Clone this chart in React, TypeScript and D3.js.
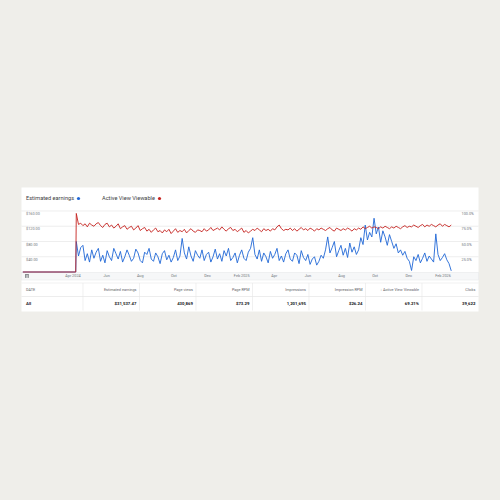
import React from "react";
import * as d3 from "d3";

// ---------- data ----------
const zeroStart = "2024-01-01";
const seriesStart = "2024-04-07";
const stepDays = 4;
const domainEnd = "2026-02-17";

// Estimated earnings ($), one value every 4 days from 2024-04-07
const earnings = [
  80, 42, 64, 70, 30, 48, 26, 58,
  36, 52, 62, 28, 44, 24, 56, 40,
  30, 62, 48, 34, 54, 26, 40, 58,
  44, 28, 36, 60, 50, 30, 24, 52,
  46, 62, 34, 28, 50, 40, 22, 48,
  56, 32, 44, 26, 38, 58, 30, 42,
  88, 50, 34, 66, 42, 28, 56, 44,
  36, 58, 30, 46, 52, 26, 40, 60,
  34, 48, 28, 56, 42, 62, 30, 38,
  50, 24, 44, 58, 36, 30, 52, 62,
  90, 46, 34, 58, 28, 50, 40, 24,
  54, 36, 46, 62, 30, 42, 26, 48,
  58, 34, 28, 50, 44, 22, 56, 38,
  30, 46, 20, 34, 40, 18, 28, 44,
  36, 58, 92, 50, 64, 80, 40, 56,
  70, 44, 62, 38, 76, 52, 66, 46,
  58, 90, 72, 123, 84, 104, 92, 141,
  100, 118, 78, 108, 92, 70, 98, 80,
  62, 74, 50, 58, 44, 54, 36, 28,
  4, 40, 30, 46, 24, 36, 50, 28,
  42, 34, 26, 100, 46, 30, 38, 48,
  32, 22, 3,
];

// Active View Viewable (%), same dates
const viewable = [
  96, 78, 80, 76, 79, 74, 80, 77,
  75, 79, 81, 76, 73, 78, 80, 74,
  77, 72, 75, 79, 71, 74, 76, 70,
  73, 75, 69, 72, 76, 68, 71, 73,
  67, 70, 65, 69, 72, 66, 68, 64,
  69, 66, 70, 63, 67, 71, 65, 68,
  66, 70, 64, 68, 71, 67, 65, 69,
  68, 66, 71, 67, 69, 73, 68, 70,
  72, 69, 74, 70, 67, 71, 73, 68,
  70, 66, 69, 72, 65, 68, 64, 67,
  70, 68, 72, 69, 66, 71, 68, 70,
  67, 71, 69, 74, 77, 71, 68, 70,
  69, 72, 68, 71, 67, 70, 73, 69,
  71, 68, 72, 70, 67, 71, 69, 72,
  70, 68, 71, 73, 69, 67, 72, 70,
  68, 71, 69, 72, 70, 67, 71, 69,
  72, 70, 74, 71, 73, 75, 72, 74,
  73, 71, 74, 72, 75, 73, 71, 74,
  72, 75, 73, 71, 74, 76, 73, 75,
  74, 77, 75, 73, 76, 78, 74, 77,
  75, 78, 76, 74, 77, 79, 75, 78,
  76, 74, 77,
];

const xTickDates = [
  "2024-04-01", "2024-06-01", "2024-08-01", "2024-10-01", "2024-12-01", "2025-02-01",
  "2025-04-01", "2025-06-01", "2025-08-01", "2025-10-01", "2025-12-01", "2026-02-01",
];
const xTickLabels = ["Apr 2024", "Jun", "Aug", "Oct", "Dec", "Feb 2025", "Apr", "Jun", "Aug", "Oct", "Dec", "Feb 2026"];
const leftTicks = [40, 80, 120, 160];
const leftTickLabels = ["$40.00", "$80.00", "$120.00", "$160.00"];
const rightTicks = [25, 50, 75, 100];
const rightTickLabels = ["25.0%", "50.0%", "75.0%", "100.0%"];
const legendLabels = ["Estimated earnings", "Active View Viewable"];
const tableHeaders = ["DATE", "Estimated earnings", "Page views", "Page RPM", "Impressions", "Impression RPM", "↓ Active View Viewable", "Clicks"];
const tableRow = ["All", "$31,537.47", "430,869", "$73.29", "1,201,695", "$26.24", "69.21%", "39,622"];

// ---------- styles ----------
const BLUE = "#1f66d6";
const RED = "#c5221f";
const FONT = "Roboto, 'Liberation Sans', Arial, sans-serif";

export default function App() {
  const parse = d3.utcParse("%Y-%m-%d");
  const start = parse(seriesStart)!;
  const dates = earnings.map((_, i) => d3.utcDay.offset(start, i * stepDays));
  const lead = [parse(zeroStart)!, d3.utcDay.offset(start, -1)];

  const panel = { x0: 21.5, x1: 478.5, y0: 187.5, y1: 311.5 };
  const plot = { x0: 22.8, x1: 451.8, top: 211, bottom: 272 };

  const x = d3.scaleUtc().domain([parse(zeroStart)!, parse(domainEnd)!]).range([plot.x0, plot.x1]);
  const yL = d3.scaleLinear().domain([0, 160]).range([plot.bottom, plot.top]);
  const yR = d3.scaleLinear().domain([0, 100]).range([plot.bottom, plot.top]);

  type P = { d: Date; v: number };
  const ePts: P[] = [...lead.map((d) => ({ d, v: 0 })), ...earnings.map((v, i) => ({ d: dates[i], v }))];
  const vPts: P[] = [...lead.map((d) => ({ d, v: 0 })), ...viewable.map((v, i) => ({ d: dates[i], v }))];
  const lineE = d3.line<P>().x((p) => x(p.d)).y((p) => yL(p.v));
  const lineV = d3.line<P>().x((p) => x(p.d)).y((p) => yR(p.v));

  const col = d3.scaleBand().domain(tableHeaders.slice(1)).range([83, panel.x1]);
  const headerY0 = 283, rowY0 = 296.5, rowY1 = 310.5;

  return (
    <div style={{ position: "fixed", left: 0, top: 0, width: 500, height: 500 }}>
      <svg width={500} height={500} style={{ display: "block", fontFamily: FONT }}>
        <rect x={0} y={0} width={500} height={500} fill="#efeeea" />
        <rect x={panel.x0} y={panel.y0} width={panel.x1 - panel.x0} height={panel.y1 - panel.y0} fill="#ffffff" />

        {/* legend */}
        <text x={26} y={198.5} fontSize={5.6} fill="#3c4043" dominantBaseline="middle">{legendLabels[0]}</text>
        <circle cx={78.5} cy={198.5} r={1.6} fill={BLUE} />
        <text x={102} y={198.5} fontSize={5.6} fill="#3c4043" dominantBaseline="middle">{legendLabels[1]}</text>
        <circle cx={159.5} cy={198.5} r={1.6} fill={RED} />

        {/* gridlines */}
        {leftTicks.map((t) => (
          <line key={t} x1={panel.x0} x2={panel.x1} y1={yL(t)} y2={yL(t)} stroke="#e3e3e3" strokeWidth={0.6} />
        ))}
        {leftTicks.map((t, i) => (
          <text key={"l" + t} x={26} y={yL(t) + 3} fontSize={3.8} fill="#70757a" dominantBaseline="middle">{leftTickLabels[i]}</text>
        ))}
        {rightTicks.map((t, i) => (
          <text key={"r" + t} x={461.5} y={yR(t) + 3} fontSize={3.8} fill="#70757a" dominantBaseline="middle">{rightTickLabels[i]}</text>
        ))}

        {/* x axis strip */}
        <rect x={panel.x0} y={272.5} width={panel.x1 - panel.x0} height={7.5} fill="#f6f7f8" stroke="#e4e6e8" strokeWidth={0.5} />
        {xTickDates.map((d, i) => (
          <text key={d} x={x(parse(d)!)} y={276.3} fontSize={3.8} fill="#70757a" textAnchor="middle" dominantBaseline="middle">{xTickLabels[i]}</text>
        ))}
        <g fill="#5f6368">
          <rect x={25.3} y={274.3} width={0.7} height={3.6} />
          <rect x={26.6} y={274.3} width={0.7} height={3.6} />
          <rect x={27.9} y={274.3} width={0.7} height={3.6} />
          <rect x={25.3} y={274.3} width={3.3} height={0.6} />
        </g>

        {/* series */}
        <path d={lineE(ePts) || ""} fill="none" stroke={BLUE} strokeWidth={0.9} strokeLinejoin="round" />
        <path d={lineV(vPts) || ""} fill="none" stroke={RED} strokeWidth={0.9} strokeLinejoin="round" />

        {/* table */}
        <line x1={panel.x0} x2={panel.x1} y1={headerY0} y2={headerY0} stroke="#e8e8e8" strokeWidth={0.6} />
        <line x1={panel.x0} x2={panel.x1} y1={rowY0} y2={rowY0} stroke="#e0e0e0" strokeWidth={0.6} />
        {[83, ...tableHeaders.slice(1, -1).map((h) => (col(h) as number) + col.bandwidth())].map((cx, i) => (
          <line key={"v" + i} x1={cx} x2={cx} y1={headerY0} y2={rowY1} stroke="#e6e6e6" strokeWidth={0.6} />
        ))}
        <text x={26} y={290} fontSize={3.8} fill="#5f6368" dominantBaseline="middle">{tableHeaders[0]}</text>
        <text x={26} y={303.5} fontSize={4.3} fontWeight={700} fill="#202124" dominantBaseline="middle">{tableRow[0]}</text>
        {tableHeaders.slice(1).map((h, i) => {
          const xr = (col(h) as number) + col.bandwidth() - 3;
          return (
            <g key={h}>
              <text x={xr} y={290} fontSize={3.8} fill="#5f6368" textAnchor="end" dominantBaseline="middle">{h}</text>
              <text x={xr} y={303.5} fontSize={4.3} fontWeight={700} fill="#202124" textAnchor="end" dominantBaseline="middle">{tableRow[i + 1]}</text>
            </g>
          );
        })}
      </svg>
    </div>
  );
}
